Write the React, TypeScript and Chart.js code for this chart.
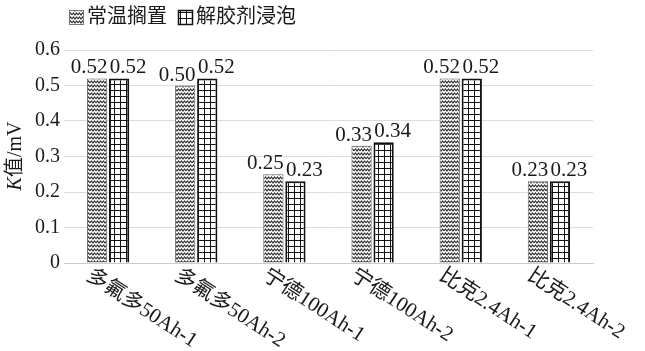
import React, { useEffect, useRef } from "react";
import { Chart, registerables } from "chart.js";

Chart.register(...registerables);

const categories = ["多氟多50Ah-1", "多氟多50Ah-2", "宁德100Ah-1", "宁德100Ah-2", "比克2.4Ah-1", "比克2.4Ah-2"];
const seriesNames = ["常温搁置", "解胶剂浸泡"];
const normalValues = [0.52, 0.5, 0.25, 0.33, 0.52, 0.23];
const soakValues = [0.52, 0.52, 0.23, 0.34, 0.52, 0.23];
const yTicks = [0, 0.1, 0.2, 0.3, 0.4, 0.5, 0.6];

const SERIF = "'Liberation Serif', 'DejaVu Serif', 'Noto Sans CJK SC', serif";
const CJK = "'Liberation Serif', 'Noto Sans CJK SC', serif";

function wavePattern(ctx: CanvasRenderingContext2D): CanvasPattern {
  const c = document.createElement("canvas");
  c.width = 6;
  c.height = 4;
  const g = c.getContext("2d")!;
  g.fillStyle = "#ffffff";
  g.fillRect(0, 0, 6, 4);
  g.strokeStyle = "#2e2e2e";
  g.lineWidth = 1.1;
  g.beginPath();
  g.moveTo(0, 3);
  g.lineTo(1.5, 1);
  g.lineTo(3, 3);
  g.lineTo(4.5, 1);
  g.lineTo(6, 3);
  g.stroke();
  return ctx.createPattern(c, "repeat")!;
}

function gridPattern(ctx: CanvasRenderingContext2D): CanvasPattern {
  const c = document.createElement("canvas");
  c.width = 6;
  c.height = 6;
  const g = c.getContext("2d")!;
  g.fillStyle = "#ffffff";
  g.fillRect(0, 0, 6, 6);
  g.fillStyle = "#111111";
  g.fillRect(0, 0, 6, 1);
  g.fillRect(0, 0, 1, 6);
  return ctx.createPattern(c, "repeat")!;
}

export default function App() {
  const ref = useRef<HTMLCanvasElement | null>(null);

  useEffect(() => {
    const canvas = ref.current!;
    const ctx = canvas.getContext("2d")!;
    const wave = wavePattern(ctx);
    const grid = gridPattern(ctx);
    const labelShift = [-8, 9];

    const overlay = {
      id: "overlay",
      afterDatasetsDraw(chart: any) {
        const c = chart.ctx as CanvasRenderingContext2D;
        const area = chart.chartArea;
        c.save();
        // data labels
        c.fillStyle = "#1a1a1a";
        c.font = `21px ${SERIF}`;
        c.textAlign = "center";
        c.textBaseline = "alphabetic";
        chart.data.datasets.forEach((ds: any, di: number) => {
          const meta = chart.getDatasetMeta(di);
          meta.data.forEach((bar: any, i: number) => {
            c.fillText(Number(ds.data[i]).toFixed(2), bar.x + labelShift[di], bar.y - 5);
          });
        });
        // x labels
        const xs = chart.scales.x;
        c.font = `21px ${CJK}`;
        c.textAlign = "left";
        c.textBaseline = "top";
        categories.forEach((lab, i) => {
          const x = xs.getPixelForValue(i);
          c.save();
          c.translate(x - 14, area.bottom + 2);
          c.rotate((33 * Math.PI) / 180);
          c.fillText(lab, 0, 0);
          c.restore();
        });
        // legend
        const items = [
          { x: 69, pat: wave, border: "#777777", bw: 1, text: seriesNames[0] },
          { x: 178, pat: grid, border: "#111111", bw: 1.5, text: seriesNames[1] },
        ];
        c.font = `20px ${CJK}`;
        c.textBaseline = "middle";
        items.forEach((it) => {
          c.fillStyle = it.pat;
          c.fillRect(it.x, 10, 15, 15);
          c.strokeStyle = it.border;
          c.lineWidth = it.bw;
          c.strokeRect(it.x + 0.5, 10.5, 14, 14);
          c.fillStyle = "#1a1a1a";
          c.fillText(it.text, it.x + 18, 18);
        });
        // y title
        c.save();
        c.translate(16, 156);
        c.rotate(-Math.PI / 2);
        c.textBaseline = "middle";
        c.textAlign = "left";
        c.font = `italic 20px ${SERIF}`;
        const kW = c.measureText("K").width;
        c.font = `20px ${CJK}`;
        const restW = c.measureText("值/mV").width;
        const start = -(kW + restW) / 2;
        c.font = `italic 20px ${SERIF}`;
        c.fillText("K", start, 0);
        c.font = `20px ${CJK}`;
        c.fillText("值/mV", start + kW, 0);
        c.restore();
        c.restore();
      },
    };

    const chart = new Chart(canvas, {
      type: "bar",
      data: {
        labels: categories,
        datasets: [
          {
            label: seriesNames[0],
            data: normalValues,
            backgroundColor: wave,
            borderColor: "#666666",
            borderWidth: 1,
            categoryPercentage: 0.5,
            barPercentage: 0.92,
          },
          {
            label: seriesNames[1],
            data: soakValues,
            backgroundColor: grid,
            borderColor: "#111111",
            borderWidth: 2,
            categoryPercentage: 0.5,
            barPercentage: 0.92,
          },
        ],
      },
      options: {
        animation: false,
        responsive: false,
        layout: { padding: { left: 0, right: 52, top: 50, bottom: 88 } },
        plugins: { legend: { display: false }, tooltip: { enabled: false } },
        scales: {
          x: {
            ticks: { display: false },
            grid: { display: false },
            border: { display: true, color: "#cccccc", width: 1 },
            afterFit(scale: any) {
              scale.height = 0;
            },
          },
          y: {
            min: 0,
            max: 0.6,
            afterBuildTicks(scale: any) {
              scale.ticks = yTicks.map((v) => ({ value: v }));
            },
            afterFit(scale: any) {
              scale.width = 64;
            },
            ticks: {
              padding: 4,
              color: "#1a1a1a",
              font: { family: SERIF, size: 20 },
              callback: (v: any) => String(Number(v)),
            },
            grid: { color: "#dcdcdc", lineWidth: 1, drawTicks: false },
            border: { display: false },
          },
        },
      },
      plugins: [overlay],
    });
    return () => chart.destroy();
  }, []);

  return (
    <div style={{ position: "fixed", left: 0, top: 0, width: 645, height: 351, background: "#fff" }}>
      <canvas ref={ref} width={645} height={351} style={{ width: 645, height: 351 }} />
    </div>
  );
}
